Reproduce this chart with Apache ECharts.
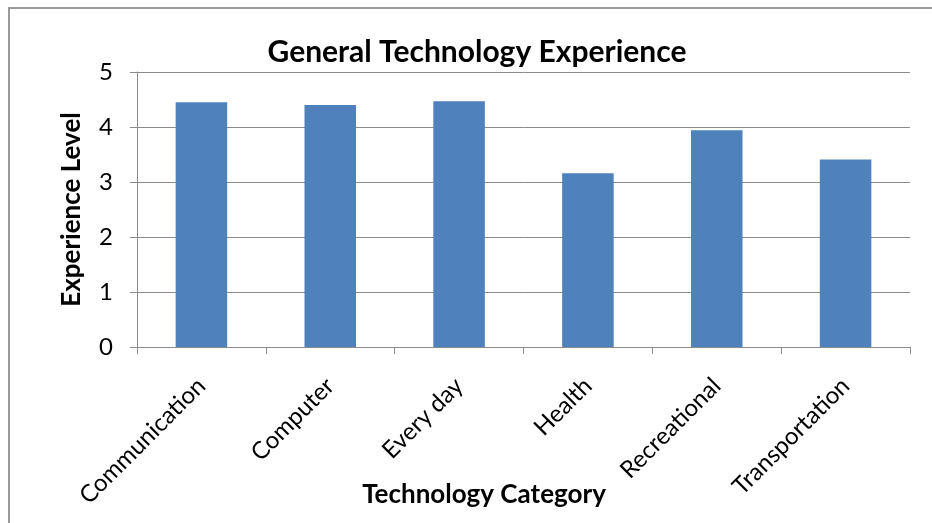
<!DOCTYPE html>
<html>
<head>
<meta charset="utf-8">
<script src="https://cdn.jsdelivr.net/npm/echarts@6/dist/echarts.min.js"></script>
<style>
  html, body { margin: 0; padding: 0; background: #ffffff; }
  #chart { width: 932px; height: 523px; }
</style>
</head>
<body>
<div id="chart"></div>
<script>
// Mean self-reported experience level per technology category
const categories = ['Communication', 'Computer', 'Every day', 'Health', 'Recreational', 'Transportation'];
const experienceLevels = [4.45, 4.40, 4.47, 3.16, 3.94, 3.41];
const yTicks = [0, 1, 2, 3, 4, 5];

const FONT = 'Lato, "Open Sans", sans-serif';
const GRID_COLOR = '#8c8c8c';

const chart = echarts.init(document.getElementById('chart'), null, { renderer: 'canvas' });

chart.setOption({
  animation: false,
  backgroundColor: '#ffffff',
  title: [
    {
      text: 'General Technology Experience',
      left: 472, top: 32, textAlign: 'center',
      textStyle: { fontFamily: FONT, fontWeight: 'bold', fontSize: 30, color: '#000000' }
    },
    {
      text: 'Technology Category',
      left: 479, top: 477, textAlign: 'center',
      textStyle: { fontFamily: FONT, fontWeight: 'bold', fontSize: 26, color: '#000000' }
    }
  ],
  graphic: [
    {
      type: 'rect',
      shape: { x: 9, y: 8, width: 940, height: 540 },
      style: { fill: 'none', stroke: '#9a9a9a', lineWidth: 2 },
      silent: true
    }
  ],
  grid: { left: 137, right: 22, top: 72, bottom: 176, containLabel: false },
  xAxis: {
    type: 'category',
    data: categories,
    boundaryGap: true,
    axisLine: { lineStyle: { color: GRID_COLOR, width: 1 } },
    axisTick: { show: true, alignWithLabel: false, length: 7, lineStyle: { color: GRID_COLOR } },
    axisLabel: {
      rotate: 45,
      interval: 0,
      margin: 35,
      fontFamily: FONT,
      fontSize: 24,
      color: '#000000'
    }
  },
  yAxis: {
    type: 'value',
    min: 0, max: 5, interval: 1,
    name: 'Experience Level',
    nameLocation: 'middle',
    nameGap: 52,
    nameRotate: 90,
    nameTextStyle: { fontFamily: FONT, fontWeight: 'bold', fontSize: 26, color: '#000000' },
    axisLine: { show: true, lineStyle: { color: GRID_COLOR, width: 1 } },
    axisTick: { show: true, length: 7, lineStyle: { color: GRID_COLOR } },
    splitLine: { show: true, lineStyle: { color: GRID_COLOR, width: 1 } },
    axisLabel: {
      margin: 24,
      fontFamily: FONT,
      fontSize: 24,
      color: '#000000',
      formatter: function (v) { return yTicks.includes(v) ? String(v) : ''; }
    }
  },
  series: [
    {
      type: 'bar',
      data: experienceLevels,
      barCategoryGap: '60%',
      itemStyle: { color: '#4f81bd' }
    }
  ]
});
</script>
</body>
</html>
